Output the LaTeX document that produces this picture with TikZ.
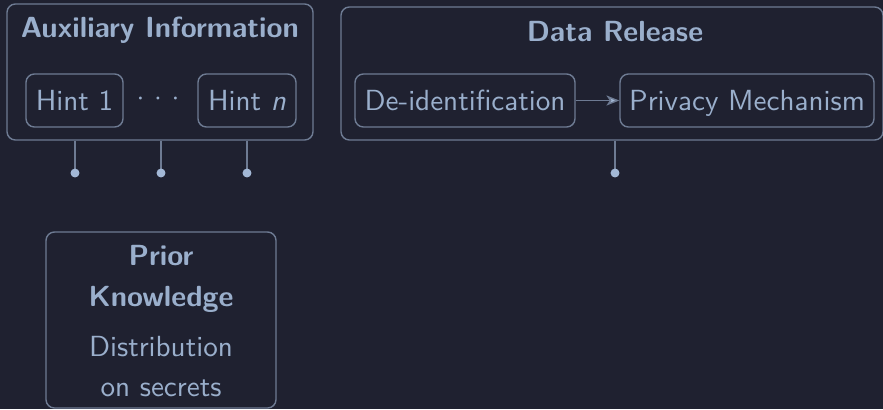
\documentclass[tikz,border=0pt]{standalone}
\usepackage{fontspec}
\usetikzlibrary{arrows.meta}
\definecolor{bgc}{HTML}{1F2130}
\definecolor{linec}{HTML}{6E7B93}
\definecolor{textc}{HTML}{9AAFCC}
\definecolor{dotcol}{HTML}{A3B8D6}
\newcommand{\basefont}{\fontsize{10.4}{12.5}\selectfont\sffamily}
\begin{document}
\begin{tikzpicture}[x=0.3571pt, y=-0.3571pt, font=\basefont, text=textc,
  frame/.style={draw=linec, line width=0.5pt, rounded corners=3pt, inner sep=0pt},
  inbox/.style={frame, text height=8pt, text depth=0.86pt, minimum height=18.93pt},
  heading/.style={font=\basefont\bfseries, anchor=base, inner sep=0pt},
  plain/.style={anchor=base, inner sep=0pt},
  stem/.style={draw=linec, line width=0.5pt},
  enddot/.style={fill=dotcol}]

  % canvas
  \fill[bgc] (0,0) rectangle (883,409);
  \useasboundingbox (0,0) rectangle (883,409);

  % auxiliary information group
  \node[frame, minimum width=109.27pt, minimum height=48.57pt] (aux) at (160,72) {};
  \node[heading] (auxt) at (160,37) {Auxiliary Information};
  \node[inbox, minimum width=34.64pt] (hint1) at (74.5,100.5) {Hint 1};
  \node[plain] (dots) at (158,105) {$\cdotp\kern1.8pt\cdotp\kern1.8pt\cdotp$};
  \node[inbox, minimum width=35pt] (hintn) at (247,100.5) {Hint \textit{n}};

  % data release group
  \node[frame, minimum width=193.55pt, minimum height=47.5pt] (data) at (612,73.5) {};
  \node[heading] (datat) at (615,41.5) {Data Release};
  \node[inbox, minimum width=78.56pt] (deid) at (465,100.5) {De-identification};
  \node[inbox, minimum width=90.7pt] (priv) at (747,100.5) {Privacy Mechanism};
  \draw[stem, -{Stealth[length=4.6pt, width=3.6pt, inset=1.2pt, fill=dotcol]}] (deid) -- (priv);

  % prior knowledge
  \node[frame, minimum width=82.13pt, minimum height=62.85pt] (prior) at (161,320) {};
  \node[heading] (pr1) at (161,265) {Prior};
  \node[heading] (pr2) at (161,306) {Knowledge};
  \node[plain] (pr3) at (161,356) {Distribution};
  \node[plain] (pr4) at (161,396) {on secrets};

  % stems with end dots
  \coordinate (d1) at (75,173);
  \coordinate (d2) at (161,173);
  \coordinate (d3) at (247,173);
  \coordinate (d4) at (615,173);
  \draw[stem] (aux.south -| d1) -- (d1);
  \draw[stem] (aux.south -| d2) -- (d2);
  \draw[stem] (aux.south -| d3) -- (d3);
  \draw[stem] (data.south -| d4) -- (d4);
  \foreach \d in {d1,d2,d3,d4} \fill[enddot] (\d) circle[radius=1.6pt];
\end{tikzpicture}
\end{document}
